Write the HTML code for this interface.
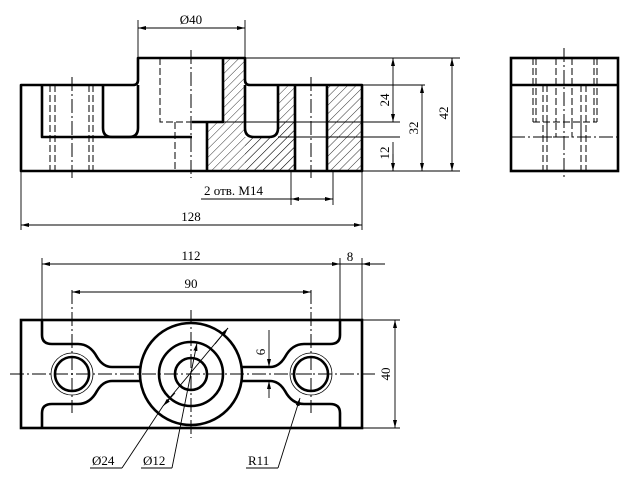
<!DOCTYPE html>
<html><head><meta charset="utf-8"><style>
html,body{margin:0;padding:0;background:#fff;}
svg{display:block;}
text{font-family:"Liberation Serif",serif;font-size:13px;fill:#000;}
</style></head><body>
<svg width="640" height="480" viewBox="0 0 640 480" xmlns="http://www.w3.org/2000/svg">
<defs>
<pattern id="h" patternUnits="userSpaceOnUse" width="6" height="6" patternTransform="rotate(45)">
<line x1="0" y1="0" x2="0" y2="6" stroke="#000" stroke-width="0.8"/>
</pattern>
<marker id="a" markerWidth="8" markerHeight="4" refX="8" refY="2" orient="auto" markerUnits="userSpaceOnUse">
<path d="M0,0 L8,2 L0,4 z" fill="#000"/></marker>
</defs>
<rect width="640" height="480" fill="#fff"/>
<g fill="url(#h)" stroke="none">
<rect x="223" y="58" width="22" height="64"/>
<rect x="207" y="122" width="88" height="49"/>
<rect x="245" y="137" width="50" height="34"/>
<rect x="278" y="85" width="17" height="52"/>
<rect x="327" y="85" width="35" height="86"/>
</g>
<rect x="245" y="85" width="33" height="52" fill="#fff"/>
<g fill="none" stroke="#000" stroke-width="2.6" stroke-linejoin="round">
<path d="M21,85 L133,85 Q138,85 138,80 L138,58 L245,58 L245,80 Q245,85 250,85 L362,85 L362,171 L21,171 Z"/>
<path d="M42,85 L42,137 L192,137"/>
<path d="M103,85 L103,128 Q103,137 112,137 L129,137 Q138,137 138,128 L138,85"/>
<path d="M192,122 L223,122 L223,58"/>
<path d="M245,85 L245,128 Q245,137 254,137 L269,137 Q278,137 278,128 L278,85"/>
<path d="M207,122 L207,171"/>
<path d="M295,85 L295,171 M327,85 L327,171"/>
</g>
<g fill="none" stroke="#000" stroke-width="1" stroke-dasharray="7,3">
<path d="M50,85 V171 M55,85 V171 M89,85 V171 M93,85 V171"/>
<path d="M160,58 V122 H192 M175,122 V171"/>
</g>
<g fill="none" stroke="#000" stroke-width="1" stroke-dasharray="14,3,2,3">
<path d="M72,77 V178 M191,50 V178 M311,77 V178"/>
</g>
<g fill="none" stroke="#000" stroke-width="0.9">
<path d="M138,58 V20 M245,58 V20"/>
<path d="M245,58 H460 M362,85 H425 M223,122 H400 M278,137 H400 M362,171 H460"/>
<path d="M291,171 V205 M333,171 V205 M201,199 H333"/>
<path d="M21,171 V230 M362,171 V230"/>
</g>
<g stroke="#000" stroke-width="0.9" fill="none">
<line x1="191" y1="28" x2="245" y2="28" marker-end="url(#a)"/>
<line x1="191" y1="28" x2="138" y2="28" marker-end="url(#a)"/>
<line x1="393" y1="90" x2="393" y2="58" marker-end="url(#a)"/>
<line x1="393" y1="90" x2="393" y2="122" marker-end="url(#a)"/>
<line x1="393" y1="154" x2="393" y2="171" marker-end="url(#a)"/>
<line x1="393" y1="142" x2="393" y2="171"/>
<line x1="422" y1="128" x2="422" y2="85" marker-end="url(#a)"/>
<line x1="422" y1="128" x2="422" y2="171" marker-end="url(#a)"/>
<line x1="452" y1="113" x2="452" y2="58" marker-end="url(#a)"/>
<line x1="452" y1="113" x2="452" y2="171" marker-end="url(#a)"/>
<line x1="312" y1="199" x2="291" y2="199" marker-end="url(#a)"/>
<line x1="312" y1="199" x2="333" y2="199" marker-end="url(#a)"/>
<line x1="191" y1="225" x2="21" y2="225" marker-end="url(#a)"/>
<line x1="191" y1="225" x2="362" y2="225" marker-end="url(#a)"/>
</g>
<text x="191" y="24" text-anchor="middle">Ø40</text>
<text transform="translate(389,100) rotate(-90)" text-anchor="middle">24</text>
<text transform="translate(389,153) rotate(-90)" text-anchor="middle">12</text>
<text transform="translate(418,128) rotate(-90)" text-anchor="middle">32</text>
<text transform="translate(448,113) rotate(-90)" text-anchor="middle">42</text>
<text x="204" y="195">2 отв. М14</text>
<text x="191" y="221" text-anchor="middle">128</text>
<g fill="none" stroke="#000" stroke-width="2.6">
<rect x="511" y="58" width="107" height="113"/>
<line x1="511" y1="85" x2="618" y2="85"/>
</g>
<g fill="none" stroke="#000" stroke-width="1" stroke-dasharray="7,3">
<path d="M533,58 V122 M536,58 V122 M556,58 V122 M572,58 V122 M594,58 V122 M597,58 V122"/>
<path d="M543,85 V171 M547,85 V171 M581,85 V171 M586,85 V171"/>
<path d="M533,122 H597 M547,137 V122 M581,137 V122 M543,137 H556 V122 M572,122 V137 H586"/>
</g>
<g fill="none" stroke="#000" stroke-width="1" stroke-dasharray="14,3,2,3">
<path d="M564,48 V180 M511,137 H618"/>
</g>
<g fill="none" stroke="#000" stroke-width="2.6">
<rect x="21" y="320" width="341" height="108"/>
<circle cx="191" cy="374" r="51"/>
<circle cx="191" cy="374" r="32"/>
<circle cx="191" cy="374" r="16"/>
<circle cx="72" cy="374" r="17"/>
<circle cx="311" cy="374" r="17"/>
<path d="M42,320 V335 Q42,344 52,344 H78 Q90,344 97,357 Q103,367 112,367 H140"/>
<path d="M42,428 V413 Q42,404 52,404 H78 Q90,404 97,391 Q103,381 112,381 H140"/>
<path d="M340,320 V335 Q340,344 330,344 H304 Q292,344 285,357 Q279,367 270,367 H242"/>
<path d="M340,428 V413 Q340,404 330,404 H304 Q292,404 285,391 Q279,381 270,381 H242"/>
</g>
<g fill="none" stroke="#000" stroke-width="0.8">
<circle cx="72" cy="374" r="21"/>
<circle cx="311" cy="374" r="21"/>
</g>
<g fill="none" stroke="#000" stroke-width="1" stroke-dasharray="14,3,2,3">
<path d="M10,374 H375 M72,290 V413 M311,290 V413 M191,310 V438"/>
</g>
<g stroke="#000" stroke-width="0.9" fill="none">
<path d="M42,320 V258 M340,320 V258 M362,320 V258 M340,264 H385"/>
<path d="M362,320 H400 M362,428 H400"/>
<line x1="191" y1="264" x2="42" y2="264" marker-end="url(#a)"/>
<line x1="191" y1="264" x2="340" y2="264" marker-end="url(#a)"/>
<line x1="375" y1="264" x2="362" y2="264" marker-end="url(#a)"/>
<line x1="191" y1="292" x2="72" y2="292" marker-end="url(#a)"/>
<line x1="191" y1="292" x2="311" y2="292" marker-end="url(#a)"/>
<line x1="395" y1="374" x2="395" y2="320" marker-end="url(#a)"/>
<line x1="395" y1="374" x2="395" y2="428" marker-end="url(#a)"/>
<line x1="269" y1="330" x2="269" y2="367" marker-end="url(#a)"/>
<line x1="269" y1="398" x2="269" y2="381" marker-end="url(#a)"/>
<line x1="122" y1="468" x2="163" y2="406"/>
<line x1="163" y1="406" x2="228" y2="328"/>
<line x1="175" y1="393" x2="163" y2="406" marker-end="url(#a)"/>
<line x1="215" y1="344" x2="228" y2="328" marker-end="url(#a)"/>
<line x1="172" y1="468" x2="197" y2="343" marker-end="url(#a)"/>
<line x1="278" y1="468" x2="300" y2="398" marker-end="url(#a)"/>
<path d="M90,468 H122 M141,468 H172 M246,468 H278"/>
</g>
<text x="191" y="260" text-anchor="middle">112</text>
<text x="350" y="261" text-anchor="middle">8</text>
<text x="191" y="288" text-anchor="middle">90</text>
<text transform="translate(390,374) rotate(-90)" text-anchor="middle">40</text>
<text transform="translate(265,352) rotate(-90)" text-anchor="middle">6</text>
<text x="92" y="465">Ø24</text>
<text x="143" y="465">Ø12</text>
<text x="248" y="465">R11</text>
</svg>
</body></html>
